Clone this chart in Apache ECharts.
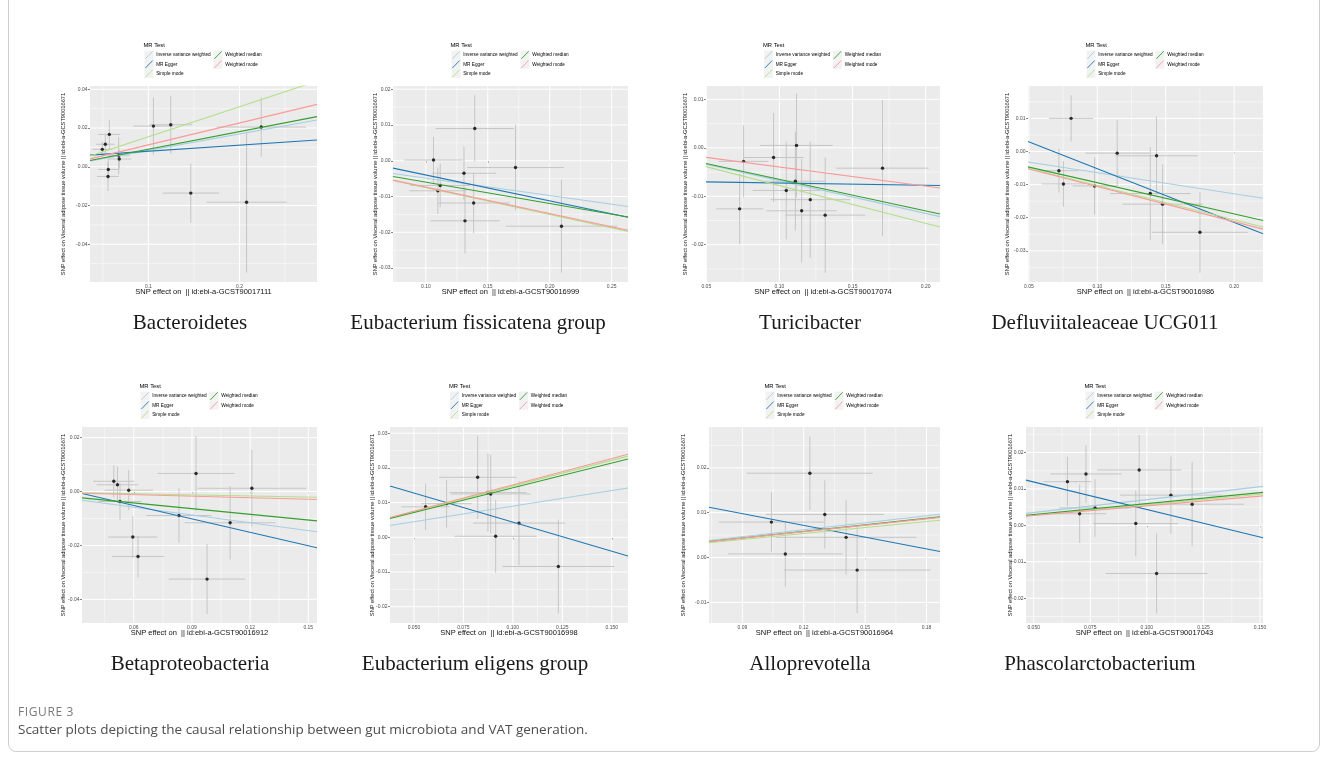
<!DOCTYPE html>
<html>
<head>
<meta charset="utf-8">
<title>Figure 3</title>
<script src="https://cdn.jsdelivr.net/npm/echarts@6/dist/echarts.min.js"></script>
<style>
  html, body { margin: 0; padding: 0; background: #fff; }
  #frame { position: absolute; left: 8px; top: -10px; width: 1312px; height: 762px; border: 1px solid #cfcfcf; border-radius: 8px; box-sizing: border-box; }
  #chart { position: absolute; left: 0; top: 0; width: 1328px; height: 769px; }
  .fig { position: absolute; left: 18px; top: 703px; font: 12px 'Open Sans', sans-serif; color: #7a7a7a; letter-spacing: 0.6px; }
  .cap { position: absolute; left: 18px; top: 720px; font: 13.5px 'Open Sans', sans-serif; color: #4d4d4d; }
</style>
</head>
<body>
<div id="frame"></div>
<div id="chart"></div>
<div class="fig">FIGURE 3</div>
<div class="cap">Scatter plots depicting the causal relationship between gut microbiota and VAT generation.</div>
<script>
const titles = ['Bacteroidetes', 'Eubacterium fissicatena group', 'Turicibacter', 'Defluviitaleaceae UCG011',
  'Betaproteobacteria', 'Eubacterium eligens group', 'Alloprevotella', 'Phascolarctobacterium']
const exposureIds = ['GCST90017111', 'GCST90016999', 'GCST90017074', 'GCST90016986',
  'GCST90016912', 'GCST90016998', 'GCST90016964', 'GCST90017043']
const outcomeLabel = 'SNP effect on Visceral adipose tissue volume || id:ebi-a-GCST90016671'
const methods = ['Inverse variance weighted', 'MR Egger', 'Simple mode', 'Weighted median', 'Weighted mode']
const methodColors = ['#a6cee3', '#1f78b4', '#b2df8a', '#33a02c', '#fb9a99']

// SNP effects on exposure (x) and outcome (y), one list per panel
const snpX = [
  [0.0494, 0.0527, 0.0571, 0.0674, 0.0680, 0.0560, 0.0557, 0.1055, 0.1245, 0.1465, 0.2077, 0.2238],
  [0.1062, 0.1395, 0.1308, 0.1116, 0.1097, 0.1386, 0.1316, 0.1724, 0.2095],
  [0.0755, 0.0960, 0.1117, 0.1047, 0.1109, 0.1211, 0.1152, 0.1313, 0.0728, 0.1705],
  [0.0808, 0.0719, 0.0752, 0.0980, 0.1145, 0.1433, 0.1387, 0.1477, 0.1750],
  [0.0497, 0.0516, 0.0574, 0.0529, 0.0595, 0.0622, 0.0833, 0.0921, 0.0978, 0.1097, 0.1209],
  [0.0559, 0.0665, 0.0822, 0.0874, 0.0888, 0.0913, 0.1031, 0.1230],
  [0.1042, 0.1110, 0.1230, 0.1303, 0.1407, 0.1461],
  [0.0649, 0.0731, 0.0703, 0.0771, 0.0966, 0.0951, 0.1106, 0.1043, 0.1200]
]
const snpY = [
  [0.0090, 0.0116, 0.0167, 0.0057, 0.0040, -0.0014, -0.0050, 0.0210, 0.0217, -0.0136, -0.0183, 0.0205],
  [0.0002, 0.0090, -0.0035, -0.0069, -0.0084, -0.0118, -0.0168, -0.0019, -0.0183],
  [-0.0028, -0.0020, 0.0005, -0.0088, -0.0069, -0.0107, -0.0130, -0.0139, -0.0126, -0.0042],
  [0.0100, -0.0058, -0.0098, -0.0104, -0.0005, -0.0013, -0.0127, -0.0159, -0.0244],
  [0.0038, 0.0025, 0.0005, -0.0037, -0.0169, -0.0241, -0.0089, 0.0067, -0.0325, -0.0116, 0.0012],
  [0.0088, 0.0097, 0.0173, 0.0129, 0.0125, 0.0003, 0.0041, -0.0084],
  [0.0079, 0.0008, 0.0188, 0.0096, 0.0045, -0.0028],
  [0.0120, 0.0141, 0.0032, 0.0048, 0.0152, 0.0005, 0.0083, -0.0132, 0.0058]
]
// standard errors (error bar half widths)
const seX = [
  [0.011, 0.010, 0.012, 0.012, 0.013, 0.011, 0.012, 0.022, 0.0235, 0.031, 0.044, 0.049],
  [0.0235, 0.0316, 0.026, 0.024, 0.023, 0.029, 0.028, 0.039, 0.045],
  [0.017, 0.0207, 0.0248, 0.023, 0.021, 0.0273, 0.024, 0.0273, 0.016, 0.0315],
  [0.0162, 0.0145, 0.016, 0.016, 0.0233, 0.030, 0.0294, 0.0294, 0.035],
  [0.0107, 0.0108, 0.0125, 0.0112, 0.0127, 0.0135, 0.0168, 0.0198, 0.0197, 0.0234, 0.028],
  [0.0122, 0.0127, 0.0196, 0.0195, 0.0202, 0.0208, 0.0232, 0.0283],
  [0.0258, 0.0281, 0.0308, 0.0289, 0.0344, 0.0358],
  [0.0105, 0.0158, 0.0118, 0.0158, 0.0186, 0.0187, 0.0224, 0.0225, 0.023]
]
const seY = [
  [0.004, 0.005, 0.0075, 0.0095, 0.005, 0.005, 0.0075, 0.0147, 0.015, 0.0153, 0.0364, 0.0153],
  [0.0065, 0.0093, 0.0075, 0.0061, 0.0065, 0.0084, 0.0091, 0.012, 0.013],
  [0.0074, 0.0092, 0.0107, 0.0101, 0.0102, 0.012, 0.0107, 0.0119, 0.0073, 0.014],
  [0.007, 0.0066, 0.0069, 0.0086, 0.010, 0.0118, 0.014, 0.012, 0.0122],
  [0.006, 0.0067, 0.0074, 0.007, 0.0077, 0.0077, 0.0101, 0.0139, 0.013, 0.0136, 0.0142],
  [0.0067, 0.0069, 0.012, 0.0113, 0.0113, 0.0105, 0.0121, 0.0135],
  [0.0066, 0.0073, 0.0082, 0.0076, 0.0083, 0.0096],
  [0.0068, 0.0079, 0.008, 0.0079, 0.0096, 0.009, 0.0106, 0.011, 0.0116]
]

// MR estimates (slopes; only Egger has an intercept)
const ivwSlope = [0.0847, -0.0486, -0.0677, -0.0639, -0.0967, 0.090, 0.0517, 0.0707]
const eggerSlope = [0.0313, -0.0725, -0.0046, -0.162, -0.166, -0.1676, -0.0874, -0.1509]
const eggerIntercept = [0.00488, 0.00327, -0.0068, 0.011, 0.00479, 0.02113, 0.01765, 0.01945]
const simpleModeSlope = [0.155, -0.075, -0.078, -0.103, -0.0136, 0.148, 0.0445, 0.057]
const wMedianSlope = [0.0908, -0.0598, -0.0651, -0.0942, -0.0705, 0.1427, 0.0486, 0.0598]
const wModeSlope = [0.113, -0.0738, -0.0395, -0.106, -0.0192, 0.1513, 0.048, 0.0535]

// axis limits and tick labels
const xMin = [0.0359, 0.0735, 0.0498, 0.0493, 0.0333, 0.0379, 0.0737, 0.0466]
const xMax = [0.285, 0.2632, 0.2098, 0.2211, 0.1545, 0.1582, 0.1866, 0.1513]
const yMin = [-0.0595, -0.0339, -0.0277, -0.0394, -0.0488, -0.0247, -0.0146, -0.0268]
const yMax = [0.0417, 0.0209, 0.01276, 0.01977, 0.02395, 0.0318, 0.0291, 0.027]
const xTicks = [
  ['0.1', '0.2'], ['0.10', '0.15', '0.20', '0.25'], ['0.05', '0.10', '0.15', '0.20'], ['0.05', '0.10', '0.15', '0.20'],
  ['0.06', '0.09', '0.12', '0.15'], ['0.050', '0.075', '0.100', '0.125', '0.150'], ['0.09', '0.12', '0.15', '0.18'],
  ['0.050', '0.075', '0.100', '0.125', '0.150']
]
const yTicks = [
  ['-0.04', '-0.02', '0.00', '0.02', '0.04'], ['-0.03', '-0.02', '-0.01', '0.00', '0.01', '0.02'],
  ['-0.02', '-0.01', '0.00', '0.01'], ['-0.03', '-0.02', '-0.01', '0.00', '0.01'],
  ['-0.04', '-0.02', '0.00', '0.02'], ['-0.02', '-0.01', '0.00', '0.01', '0.02', '0.03'],
  ['-0.01', '0.00', '0.01', '0.02'], ['-0.02', '-0.01', '0.00', '0.01', '0.02']
]

// layout (px): plot panel boxes [left, top, right, bottom]
const panelBoxes = [
  [90, 86, 317, 282], [393, 86, 628, 282], [706, 86, 940, 282], [1028, 86, 1263, 282],
  [82, 427, 317, 623], [390, 427, 628, 623], [709, 427, 940, 623], [1026, 427, 1263, 623]
]
const yTitleX = [63, 375, 685, 1007, 63, 372, 683, 1010]
const titleX = [190, 478, 810, 1105, 190, 475, 810, 1100]
const legendTop = [45, 45, 45, 45, 386, 386, 386, 386]
const titleY = [323, 323, 323, 323, 664, 664, 664, 664]

const SANS = '"Liberation Sans", Arial, sans-serif'

const labelFormatter = (ticks) => {
  const m = {}
  ticks.forEach(t => { m[(+t).toFixed(6)] = t })
  return v => m[(+v).toFixed(6)] || ''
}

const minorValues = (vals, lo, hi) => {
  const step = vals[1] - vals[0]
  const out = []
  for (let k = -1; k < vals.length; k++) {
    const m = vals[0] + (k + 0.5) * step
    if (m > lo && m < hi) out.push(m)
  }
  return out
}

const grids = [], xAxes = [], yAxes = [], series = [], graphics = []

titles.forEach((name, i) => {
  const [l, t, r, b] = panelBoxes[i]
  const cx = (l + r) / 2
  const xv = xTicks[i].map(Number)
  const yv = yTicks[i].map(Number)

  grids.push({
    left: l, top: t, width: r - l, height: b - t,
    show: true, backgroundColor: '#ebebeb', borderWidth: 0
  })

  const tickStyle = { show: true, length: 2, lineStyle: { color: '#333', width: 0.6 } }
  xAxes.push({
    type: 'value', gridIndex: i, min: xMin[i], max: xMax[i],
    axisLine: { show: false },
    axisTick: { ...tickStyle, customValues: xv },
    axisLabel: { customValues: xv, formatter: labelFormatter(xTicks[i]), fontSize: 5, color: '#4d4d4d', margin: 2.5, fontFamily: SANS },
    splitLine: { show: false }
  })
  yAxes.push({
    type: 'value', gridIndex: i, min: yMin[i], max: yMax[i],
    axisLine: { show: false },
    axisTick: { ...tickStyle, customValues: yv },
    axisLabel: { customValues: yv, formatter: labelFormatter(yTicks[i]), fontSize: 5, color: '#4d4d4d', margin: 2.5, fontFamily: SANS },
    splitLine: { show: false }
  })

  // panel grid lines: [value, 0 = vertical / 1 = horizontal, 0 = minor / 1 = major]
  const gridRows = [
    ...minorValues(xv, xMin[i], xMax[i]).map(v => [v, 0, 0]),
    ...minorValues(yv, yMin[i], yMax[i]).map(v => [v, 1, 0]),
    ...xv.map(v => [v, 0, 1]),
    ...yv.map(v => [v, 1, 1])
  ]
  const xlo = xMin[i], ylo = yMin[i]
  series.push({
    type: 'custom', xAxisIndex: i, yAxisIndex: i, z: 1, silent: true,
    data: gridRows,
    encode: { x: -1, y: -1 },
    renderItem: (params, api) => {
      const v = api.value(0), horiz = api.value(1), isMajor = api.value(2)
      const cs = params.coordSys
      const style = { stroke: '#ffffff', lineWidth: isMajor ? 1 : 0.5 }
      if (horiz) {
        const py = api.coord([xlo, v])[1]
        return { type: 'line', shape: { x1: cs.x, y1: py, x2: cs.x + cs.width, y2: py }, style }
      }
      const px = api.coord([v, ylo])[0]
      return { type: 'line', shape: { x1: px, y1: cs.y, x2: px, y2: cs.y + cs.height }, style }
    }
  })

  // error bars
  series.push({
    type: 'custom', xAxisIndex: i, yAxisIndex: i, z: 2, silent: true, clip: true,
    data: snpX[i].map((x, k) => [x, snpY[i][k], seX[i][k], seY[i][k]]),
    encode: { x: 0, y: 1 },
    renderItem: (params, api) => {
      const x = api.value(0), y = api.value(1), sx = api.value(2), sy = api.value(3)
      const p1 = api.coord([x - sx, y]), p2 = api.coord([x + sx, y])
      const p3 = api.coord([x, y + sy]), p4 = api.coord([x, y - sy])
      const style = { stroke: '#c2c2c2', lineWidth: 0.9 }
      return {
        type: 'group',
        children: [
          { type: 'line', shape: { x1: p1[0], y1: p1[1], x2: p2[0], y2: p2[1] }, style },
          { type: 'line', shape: { x1: p3[0], y1: p3[1], x2: p4[0], y2: p4[1] }, style }
        ]
      }
    }
  })

  // SNP points
  series.push({
    type: 'scatter', xAxisIndex: i, yAxisIndex: i, z: 3, silent: true,
    symbolSize: 3.4, itemStyle: { color: '#000' },
    data: snpX[i].map((x, k) => [x, snpY[i][k]])
  })

  // MR fit lines
  const fits = [
    [0, ivwSlope[i]], [eggerIntercept[i], eggerSlope[i]], [0, simpleModeSlope[i]],
    [0, wMedianSlope[i]], [0, wModeSlope[i]]
  ]
  fits.forEach(([a, s], m) => {
    series.push({
      type: 'line', name: methods[m], xAxisIndex: i, yAxisIndex: i, z: 4 + m * 0.01,
      silent: true, symbol: 'none', clip: true,
      lineStyle: { color: methodColors[m], width: 1.1 },
      data: [[xMin[i], a + s * xMin[i]], [xMax[i], a + s * xMax[i]]]
    })
  })

  // axis titles
  graphics.push({
    type: 'text', x: cx, y: b + 10, silent: true,
    style: { text: 'SNP effect on  || id:ebi-a-' + exposureIds[i], fontSize: 7.5, fontFamily: SANS, fill: '#111',
      align: 'center', textAlign: 'center', verticalAlign: 'middle', textVerticalAlign: 'middle' }
  })
  graphics.push({
    type: 'text', x: yTitleX[i], y: (t + b) / 2, rotation: Math.PI / 2, silent: true,
    style: { text: outcomeLabel, fontSize: 5.7, fontFamily: SANS, fill: '#111',
      align: 'center', textAlign: 'center', verticalAlign: 'middle', textVerticalAlign: 'middle' }
  })

  // legend
  const L = cx - 60, T = legendTop[i]
  graphics.push({
    type: 'text', x: L, y: T, silent: true,
    style: { text: 'MR Test', fontSize: 5.8, fontFamily: SANS, fill: '#000', verticalAlign: 'middle', textVerticalAlign: 'middle' }
  })
  methods.forEach((mname, m) => {
    const col = m < 3 ? 0 : 1, row = m % 3
    const kx = L + 1 + col * 69, ky = T + 5.5 + row * 9.2
    graphics.push({ type: 'rect', silent: true, shape: { x: kx, y: ky, width: 9, height: 9.2 }, style: { fill: '#f2f2f2' } })
    graphics.push({ type: 'line', silent: true, shape: { x1: kx + 0.8, y1: ky + 8.4, x2: kx + 8.2, y2: ky + 0.8 },
      style: { stroke: methodColors[m], lineWidth: 0.9 } })
    graphics.push({
      type: 'text', x: kx + 11.7, y: ky + 4.6, silent: true,
      style: { text: mname, fontSize: 4.7, fontFamily: SANS, fill: '#000', verticalAlign: 'middle', textVerticalAlign: 'middle' }
    })
  })

  // panel caption
  graphics.push({
    type: 'text', x: titleX[i], y: titleY[i], silent: true,
    style: { text: name, fontSize: 21, fontFamily: '"Liberation Serif", "Times New Roman", serif', fill: '#1a1a1a',
      align: 'center', textAlign: 'center', verticalAlign: 'middle', textVerticalAlign: 'middle' }
  })
})

const chart = echarts.init(document.getElementById('chart'))
chart.setOption({
  animation: false,
  backgroundColor: 'transparent',
  grid: grids,
  xAxis: xAxes,
  yAxis: yAxes,
  series: series,
  graphic: { elements: graphics }
})
window.addEventListener('resize', () => chart.resize())
</script>
</body>
</html>
